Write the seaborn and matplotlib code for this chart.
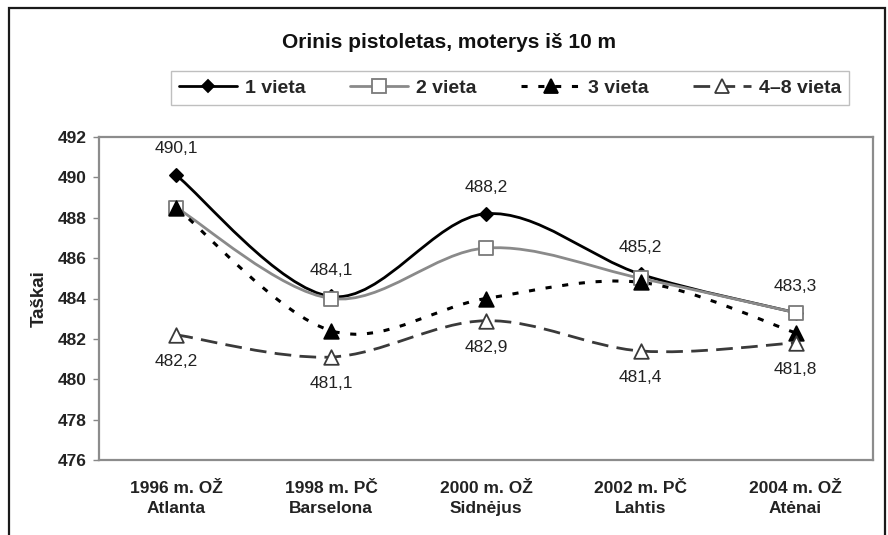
import matplotlib
matplotlib.use("Agg")
import matplotlib.pyplot as plt
import seaborn as sns
import numpy as np
from matplotlib.path import Path
from matplotlib.patches import PathPatch, Rectangle
from matplotlib.lines import Line2D

# data
events = ["1996 m. OŽ\nAtlanta", "1998 m. PČ\nBarselona", "2000 m. OŽ\nSidnėjus",
          "2002 m. PČ\nLahtis", "2004 m. OŽ\nAtėnai"]
vieta_1 = [490.1, 484.1, 488.2, 485.2, 483.3]
vieta_2 = [488.5, 484.0, 486.5, 485.0, 483.3]
vieta_3 = [488.5, 482.4, 484.0, 484.8, 482.3]
vieta_4_8 = [482.2, 481.1, 482.9, 481.4, 481.8]
series_names = ["1 vieta", "2 vieta", "3 vieta", "4–8 vieta"]
y_ticks = [476, 478, 480, 482, 484, 486, 488, 490, 492]

sns.set_theme(style="white")
plt.rcParams["font.family"] = ["Liberation Sans", "DejaVu Sans"]


def smooth_path(ys):
    # excel-like smoothed line: cubic bezier through the points
    pts = np.column_stack([np.arange(len(ys)), ys]).astype(float)
    p = np.vstack([pts[0], pts, pts[-1]])
    verts = [pts[0]]
    codes = [Path.MOVETO]
    for i in range(len(pts) - 1):
        p0, p1, p2, p3 = p[i], p[i + 1], p[i + 2], p[i + 3]
        verts += [p1 + (p2 - p0) / 6, p2 - (p3 - p1) / 6, p2]
        codes += [Path.CURVE4] * 3
    return Path(verts, codes)


styles = [
    dict(ys=vieta_1, color="#000000", ls="-", lw=2.0, marker="D", s=45, fc="#000000", ec="#000000"),
    dict(ys=vieta_2, color="#8a8a8a", ls="-", lw=2.0, marker="s", s=110, fc="white", ec="#7a7a7a"),
    dict(ys=vieta_3, color="#000000", ls=(0, (2, 3.5)), lw=2.2, marker="^", s=110, fc="#000000", ec="#000000"),
    dict(ys=vieta_4_8, color="#3a3a3a", ls=(0, (6, 3)), lw=2.0, marker="^", s=110, fc="white", ec="#3a3a3a"),
]

fig = plt.figure(figsize=(8.88, 5.35), dpi=100)
ax = fig.add_axes([99 / 888, 75 / 535, (873 - 99) / 888, (460 - 137) / 535])

handles = []
for name, st in zip(series_names, styles):
    ax.add_patch(PathPatch(smooth_path(st["ys"]), fill=False, edgecolor=st["color"],
                           lw=st["lw"], linestyle=st["ls"], capstyle="butt", zorder=2))
    sns.scatterplot(x=events, y=st["ys"], marker=st["marker"], s=st["s"], color=st["fc"],
                    edgecolor=st["ec"], linewidth=1.3, zorder=3, ax=ax, legend=False)
    handles.append(Line2D([], [], color=st["color"], lw=st["lw"], linestyle=st["ls"],
                          marker=st["marker"], markersize=np.sqrt(st["s"]) * 0.95,
                          markerfacecolor=st["fc"], markeredgecolor=st["ec"], markeredgewidth=1.3))

for i, v in enumerate(vieta_1):
    ax.annotate(f"{v:.1f}".replace(".", ","), (i, v), xytext=(0, 19), textcoords="offset points",
                ha="center", va="center", fontsize=12.5, color="#222222")
for i, v in enumerate(vieta_4_8):
    ax.annotate(f"{v:.1f}".replace(".", ","), (i, v), xytext=(0, -19), textcoords="offset points",
                ha="center", va="center", fontsize=12.5, color="#222222")

ax.set_xlim(-0.5, len(events) - 0.5)
ax.set_ylim(476, 492)
ax.set_yticks(y_ticks)
ax.set_yticklabels([str(t) for t in y_ticks], fontsize=12.5, fontweight="bold", color="#222222")
ax.set_xticks(range(len(events)))
ax.set_xticklabels(events, fontsize=12.5, fontweight="bold", color="#222222", linespacing=1.45)
ax.set_xticks(np.arange(-0.5, len(events), 1), minor=True)
ax.tick_params(axis="x", which="major", length=0, pad=15)
ax.tick_params(axis="x", which="minor", length=4, width=1, color="#888888", direction="out")
ax.tick_params(axis="y", length=4, width=1, color="#888888", direction="out", left=True, pad=5)
ax.set_ylabel("Taškai", fontsize=13.5, fontweight="bold", color="#222222", labelpad=7)
for sp in ax.spines.values():
    sp.set_color("#8c8c8c")
    sp.set_linewidth(1.6)

fig.text(449 / 888, 1 - 42 / 535, "Orinis pistoletas, moterys iš 10 m", ha="center", va="center",
         fontsize=15, fontweight="bold", color="#111111")

leg = fig.legend(handles, series_names, loc="center", bbox_to_anchor=(510 / 888, 1 - 88 / 535),
                 ncol=4, frameon=True, fancybox=False, edgecolor="#b0b0b0", handlelength=3.0,
                 columnspacing=2.3, handletextpad=0.4, borderpad=0.4,
                 prop={"size": 14, "weight": "bold"})
leg.get_frame().set_linewidth(1.0)

fig.add_artist(Rectangle((9 / 888, -0.1), (885 - 9) / 888, 0.1 + (535 - 8) / 535,
                         transform=fig.transFigure, fill=False, edgecolor="#1a1a1a", lw=1.6))

fig.savefig("out.png", dpi=100)
